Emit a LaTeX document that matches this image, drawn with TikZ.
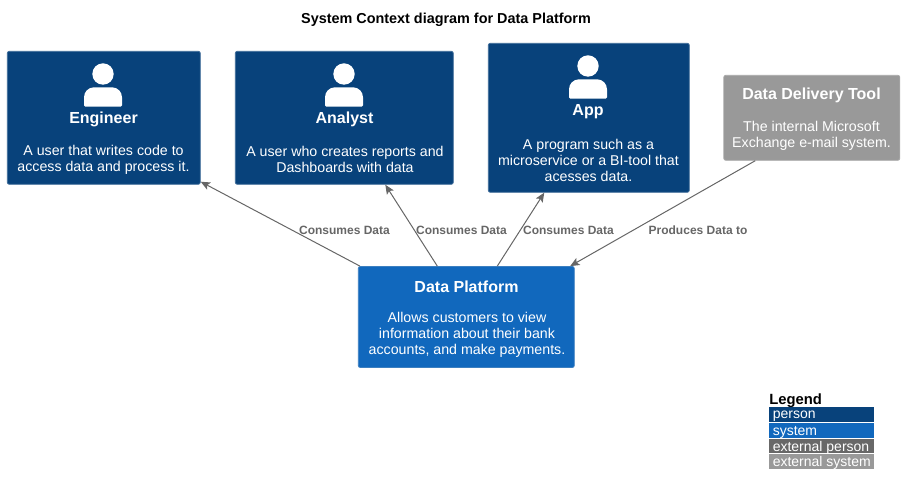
\documentclass[tikz,border=0pt]{standalone}
\usepackage{fontspec}
\setmainfont{Liberation Sans}
\usetikzlibrary{arrows.meta}
\definecolor{personblue}{HTML}{08427B}
\definecolor{personline}{HTML}{3F6C99}
\definecolor{systemblue}{HTML}{1168BD}
\definecolor{systemline}{HTML}{3C7FC0}
\definecolor{extgray}{HTML}{999999}
\definecolor{extline}{HTML}{A8A8A8}
\definecolor{darkgray}{HTML}{686868}
\definecolor{relgray}{HTML}{666666}
\tikzset{
  box/.style={draw,rounded corners=1.5pt,line width=.6pt,inner sep=0pt},
  personbox/.style={box,fill=personblue,draw=personline},
  systembox/.style={box,fill=systemblue,draw=systemline},
  extbox/.style={box,fill=extgray,draw=extline},
  boxtitle/.style={text=white,font=\fontsize{12}{14}\selectfont\bfseries,inner sep=0pt},
  boxtext/.style={text=white,font=\fontsize{10.65}{12}\selectfont,align=center,inner sep=0pt},
  relation/.style={draw=relgray,line width=.75pt,-{Stealth[length=7pt,width=6pt,inset=1.5pt]}},
  rellabel/.style={text=relgray,font=\fontsize{9}{11}\selectfont\bfseries,inner sep=0pt},
  legendbar/.style={anchor=north west,minimum width=78.75pt,inner sep=0pt,outer sep=0pt},
  legendtext/.style={text=white,font=\fontsize{10.5}{12}\selectfont,anchor=west,inner sep=0pt},
}
\newcommand{\personicon}[2]{%
  \fill[white] (#1,#2-44) circle (10.7);
  \fill[white,rounded corners=1pt] (#1-19,#2-11.3) -- (#1+19,#2-11.3)
    [rounded corners=7.5pt] -- (#1+19,#2-30.7) -- (#1-19,#2-30.7) [rounded corners=1pt] -- cycle;
}
\begin{document}
\begin{tikzpicture}[x=.75pt,y=-.75pt]
  \useasboundingbox (0,0) rectangle (904,495);
  \node[font=\fontsize{10.8}{12}\selectfont\bfseries,inner sep=0pt] (title) at (446,19.5) {System Context diagram for Data Platform};
  % persons
  \node[personbox,minimum width=144.75pt,minimum height=99.75pt] (engineer) at (103.8,117.8) {};
  \node[personbox,minimum width=163.5pt,minimum height=99.75pt] (analyst) at (344.3,117.8) {};
  \node[personbox,minimum width=150.75pt,minimum height=111.75pt] (app) at (588.8,117.8) {};
  % external tool and platform
  \node[extbox,minimum width=132pt,minimum height=63.75pt] (tool) at (811.8,117.8) {};
  \node[systembox,minimum width=162pt,minimum height=75.75pt] (platform) at (466.3,317) {};
  \personicon{103}{118}
  \personicon{344}{118}
  \personicon{588}{110}
  \node[boxtitle] (engineertitle) at (103.5,119.5) {Engineer};
  \node[boxtext] (engineertext) at (103.5,159.5) {A user that writes code to\\access data and process it.};
  \node[boxtitle] (analysttitle) at (344.5,119.5) {Analyst};
  \node[boxtext] (analysttext) at (345,159.5) {A user who creates reports and\\Dashboards with data};
  \node[boxtitle] (apptitle) at (588,112) {App};
  \node[boxtext] (apptext) at (588.5,160) {A program such as a\\microservice or a BI-tool that\\acesses data.};
  \node[boxtitle] (tooltitle) at (811.5,95.5) {Data Delivery Tool};
  \node[boxtext] (tooltext) at (811.5,135.5) {The internal Microsoft\\Exchange e-mail system.};
  \node[boxtitle] (platformtitle) at (466.5,286.5) {Data Platform};
  \node[boxtext] (platformtext) at (467,335) {Allows customers to view\\information about their bank\\accounts, and make payments.};
  % relations
  \draw[relation] ([xshift=1.5pt]platform.north west) -- ([yshift=2.25pt]engineer.south east);
  \draw[relation] ([xshift=-21.75pt]platform.north) -- ([xshift=30.75pt]analyst.south);
  \draw[relation] ([xshift=23.25pt]platform.north) -- ([xshift=-33.4pt]app.south);
  \draw[relation] ([xshift=-42.4pt]tool.south) -- ([xshift=-3.4pt]platform.north east);
  \node[rellabel] (label1) at (344.5,230.5) {Consumes Data};
  \node[rellabel] (label2) at (461.5,230.5) {Consumes Data};
  \node[rellabel] (label3) at (568.5,230.5) {Consumes Data};
  \node[rellabel] (label4) at (698,230.5) {Produces Data to};
  % legend
  \node[font=\fontsize{11.1}{12}\selectfont\bfseries,anchor=west,inner sep=0pt] (legend) at (769,400.5) {Legend};
  \node[legendbar,fill=personblue,minimum height=11.25pt] (bar1) at (769,407) {};
  \node[legendbar,fill=systemblue,minimum height=11.25pt] (bar2) at (769,423) {};
  \node[legendbar,fill=darkgray,minimum height=10.5pt] (bar3) at (769,439) {};
  \node[legendbar,fill=extgray,minimum height=11.25pt] (bar4) at (769,454) {};
  \node[legendtext] (text1) at (772.5,416) {person};
  \node[legendtext] (text2) at (772.5,432) {system};
  \node[legendtext] (text3) at (772.5,447.5) {external person};
  \node[legendtext] (text4) at (772.5,463) {external system};
\end{tikzpicture}
\end{document}
